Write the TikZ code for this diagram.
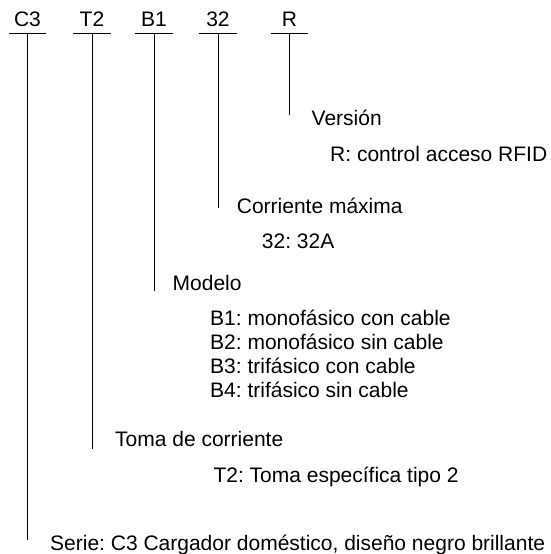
\documentclass[tikz,border=0pt]{standalone}
\usepackage{fontspec}
\setmainfont{Liberation Sans}
\usetikzlibrary{positioning}
\frenchspacing

\begin{document}
\begin{tikzpicture}[
            x = 1pt, y = -1pt, % pixel-like units, y downwards
            font = \fontsize{21pt}{24pt}\selectfont,
            lead/.style = {line width = 0.9pt}, % vertical leader lines
            code/.style = {anchor = south, minimum width = 37pt,
                inner xsep = 0pt, inner ysep = 6.3pt, text depth = 0pt},
            head/.style = {anchor = base west, inner sep = 0pt},
            desc/.style = {anchor = base west, inner sep = 0pt}
        ]
        \useasboundingbox (0,0) rectangle (550,554);

        % code parts on top
        \node[code] (c3) at (27.5,33.3) {C3};
        \node[code] (t2) at (92,33.3) {T2};
        \node[code] (b1) at (154,33.3) {B1};
        \node[code] (a32) at (218,33.3) {32};
        \node[code] (r) at (289.5,33.3) {R};

        \draw[lead] (c3.south west) -- (c3.south east);
        \draw[lead] (t2.south west) -- (t2.south east);
        \draw[lead] (b1.south west) -- (b1.south east);
        \draw[lead] (a32.south west) -- (a32.south east);
        \draw[lead] (r.south west) -- (r.south east);

        % ends of the leaders
        \coordinate (rend) at (289.5,115);
        \coordinate (a32end) at (218,208);
        \coordinate (b1end) at (154,290.7);
        \coordinate (t2end) at (92,449);
        \coordinate (c3end) at (27.5,540);

        % headings
        \node[head] (version) at (311.5,125.7) {Versión};
        \node[head] (corriente) at (236.7,213.3) {Corriente máxima};
        \node[head] (modelo) at (172.5,290) {Modelo};
        \node[head] (toma) at (115,446) {Toma de corriente};
        \node[head] (serie) at (50,550) {Serie: C3 Cargador doméstico, diseño negro brillante};

        % descriptions
        \node[desc] (versiondesc) at (330,161.7) {R: control acceso RFID};
        \node[desc] (corrientedesc) at (261.7,248.3) {32: 32A};
        \node[desc] (b1desc) at (210,325) {B1: monofásico con cable};
        \node[desc] (b2desc) at (210,349) {B2: monofásico sin cable};
        \node[desc] (b3desc) at (210,373) {B3: trifásico con cable};
        \node[desc] (b4desc) at (210,397) {B4: trifásico sin cable};
        \node[desc] (tomadesc) at (213.3,482) {T2: Toma específica tipo 2};

        \draw[lead] (r.south) -- (rend);
        \draw[lead] (a32.south) -- (a32end);
        \draw[lead] (b1.south) -- (b1end);
        \draw[lead] (t2.south) -- (t2end);
        \draw[lead] (c3.south) -- (c3end);
    \end{tikzpicture}
\end{document}
